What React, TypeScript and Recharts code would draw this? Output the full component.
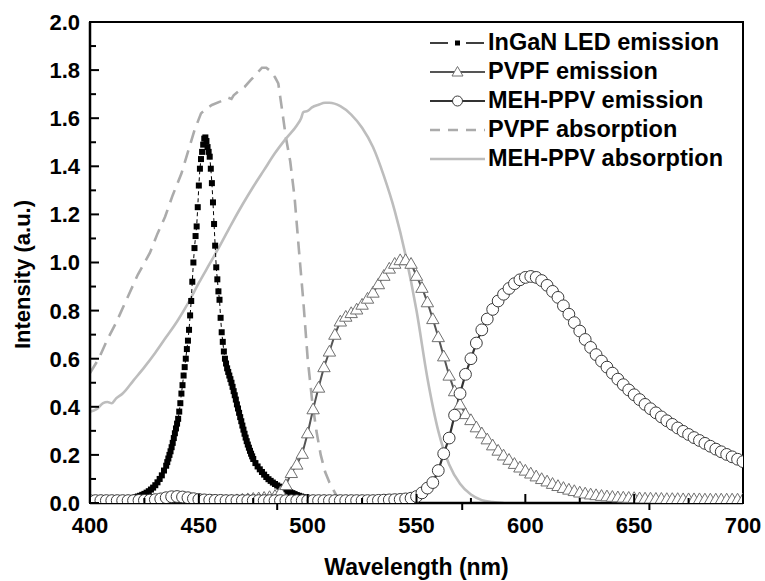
import { LineChart, Line, XAxis, YAxis, ReferenceArea, Legend } from 'recharts';

// [wavelength nm, intensity]
const ledEmission: [number, number][] = [
  [410, 0.01], [411, 0.011], [412, 0.011], [413, 0.012], [414, 0.012], [415, 0.013],
  [416, 0.014], [417, 0.015], [418, 0.017], [419, 0.019], [420, 0.021], [421, 0.024],
  [422, 0.027], [423, 0.03], [424, 0.034], [425, 0.038], [426, 0.043], [427, 0.049],
  [428, 0.056], [429, 0.064], [430, 0.074], [431, 0.086], [432, 0.1], [433, 0.115],
  [434, 0.135], [435, 0.155], [435.5, 0.17], [436, 0.185], [436.5, 0.2], [437, 0.215],
  [437.5, 0.232], [438, 0.25], [438.5, 0.27], [439, 0.29], [439.5, 0.31], [440, 0.33],
  [440.5, 0.35], [441, 0.38], [441.5, 0.415], [442, 0.455], [442.5, 0.49], [443, 0.53],
  [443.5, 0.565], [444, 0.6], [444.5, 0.64], [445, 0.675], [445.5, 0.72], [446, 0.78],
  [446.5, 0.84], [447, 0.92], [447.5, 1.0], [448, 1.06], [448.5, 1.11], [449, 1.15],
  [449.5, 1.23], [450, 1.32], [450.5, 1.39], [451, 1.43], [451.5, 1.46], [452, 1.49],
  [452.5, 1.515], [453, 1.52], [453.5, 1.505], [454, 1.48], [454.5, 1.46], [455, 1.44],
  [455.5, 1.39], [456, 1.33], [456.5, 1.25], [457, 1.16], [457.5, 1.07], [458, 0.98],
  [458.5, 0.93], [459, 0.88], [459.5, 0.845], [460, 0.77], [460.5, 0.71], [461, 0.67],
  [461.5, 0.63], [462, 0.6], [462.5, 0.58], [463, 0.56], [463.5, 0.545], [464, 0.53],
  [464.5, 0.515], [465, 0.5], [465.5, 0.483], [466, 0.465], [466.5, 0.448], [467, 0.43],
  [467.5, 0.41], [468, 0.393], [468.5, 0.375], [469, 0.357], [469.5, 0.34], [470, 0.322],
  [470.5, 0.305], [471, 0.288], [471.5, 0.272], [472, 0.257], [472.5, 0.243], [473, 0.23],
  [473.5, 0.217], [474, 0.205], [474.5, 0.194], [475, 0.183], [476, 0.166], [477, 0.152],
  [478, 0.14], [479, 0.129], [480, 0.118], [481, 0.108], [482, 0.099], [483, 0.092],
  [484, 0.085], [485, 0.079], [486, 0.073], [487, 0.068], [488, 0.063], [489, 0.059],
  [490, 0.055], [491, 0.05], [492, 0.045], [493, 0.041], [494, 0.037], [495, 0.033],
  [496, 0.03], [497, 0.027], [498, 0.024], [499, 0.021], [500, 0.018], [501, 0.015],
  [502, 0.012],
];

const pvpfEmission: [number, number][] = [
  [462.5, 0.008], [465, 0.01], [467.5, 0.012], [470, 0.014], [472.5, 0.016], [475, 0.018],
  [477.5, 0.02], [480, 0.022], [482.5, 0.025], [485, 0.03], [487.5, 0.045], [490, 0.075],
  [492.5, 0.125], [495, 0.16], [497.5, 0.205], [500, 0.29], [502.5, 0.39], [505, 0.48],
  [507.5, 0.565], [510, 0.63], [512.5, 0.7], [515, 0.755], [517.5, 0.775], [520, 0.79],
  [522.5, 0.805], [525, 0.825], [527.5, 0.85], [530, 0.875], [532.5, 0.91], [535, 0.945],
  [537.5, 0.975], [540, 0.995], [542.5, 1.01], [545, 1.01], [547.5, 0.995], [550, 0.945],
  [552.5, 0.895], [555, 0.835], [557.5, 0.765], [560, 0.69], [562.5, 0.61], [565, 0.53],
  [567.5, 0.465], [570, 0.41], [572.5, 0.37], [575, 0.345], [577.5, 0.315], [580, 0.29],
  [582.5, 0.265], [585, 0.24], [587.5, 0.218], [590, 0.198], [592.5, 0.18], [595, 0.163],
  [597.5, 0.148], [600, 0.135], [602.5, 0.123], [605, 0.111], [607.5, 0.1], [610, 0.09],
  [612.5, 0.08], [615, 0.071], [617.5, 0.063], [620, 0.056], [622.5, 0.05], [625, 0.044],
  [627.5, 0.04], [630, 0.036], [632.5, 0.033], [635, 0.03], [637.5, 0.028], [640, 0.026],
  [642.5, 0.024], [645, 0.023], [647.5, 0.022], [650, 0.021], [652.5, 0.02], [655, 0.019],
  [657.5, 0.019], [660, 0.018], [662.5, 0.018], [665, 0.017], [667.5, 0.017], [670, 0.017],
  [672.5, 0.016], [675, 0.016], [677.5, 0.016], [680, 0.016], [682.5, 0.015], [685, 0.015],
  [687.5, 0.015], [690, 0.015], [692.5, 0.015], [695, 0.015], [697.5, 0.015], [700, 0.015],
];

const mehEmission: [number, number][] = [
  [400, 0.01], [402.5, 0.01], [405, 0.01], [407.5, 0.01], [410, 0.01], [412.5, 0.01],
  [415, 0.01], [417.5, 0.01], [420, 0.01], [422.5, 0.011], [425, 0.011], [427.5, 0.012],
  [430, 0.014], [432.5, 0.017], [435, 0.022], [437.5, 0.026], [440, 0.027], [442.5, 0.025],
  [445, 0.022], [447.5, 0.018], [450, 0.015], [452.5, 0.013], [455, 0.012], [457.5, 0.011],
  [460, 0.011], [462.5, 0.01], [465, 0.01], [467.5, 0.01], [470, 0.01], [472.5, 0.01],
  [475, 0.01], [477.5, 0.01], [480, 0.01], [482.5, 0.01], [485, 0.01], [487.5, 0.01],
  [490, 0.01], [492.5, 0.01], [495, 0.01], [497.5, 0.01], [500, 0.01], [502.5, 0.01],
  [505, 0.01], [507.5, 0.01], [510, 0.01], [512.5, 0.01], [515, 0.01], [517.5, 0.01],
  [520, 0.01], [522.5, 0.01], [525, 0.01], [527.5, 0.01], [530, 0.01], [532.5, 0.011],
  [535, 0.012], [537.5, 0.013], [540, 0.014], [542.5, 0.015], [545, 0.017], [547.5, 0.02],
  [550, 0.027], [552.5, 0.042], [555, 0.062], [557.5, 0.085], [560, 0.135], [562.5, 0.205],
  [565, 0.27], [567.5, 0.365], [570, 0.455], [572.5, 0.535], [575, 0.6], [577.5, 0.665],
  [580, 0.72], [582.5, 0.765], [585, 0.805], [587.5, 0.84], [590, 0.868], [592.5, 0.892],
  [595, 0.912], [597.5, 0.928], [600, 0.938], [602.5, 0.942], [605, 0.938], [607.5, 0.925],
  [610, 0.905], [612.5, 0.88], [615, 0.855], [617.5, 0.82], [620, 0.785], [622.5, 0.75],
  [625, 0.715], [627.5, 0.68], [630, 0.647], [632.5, 0.617], [635, 0.59], [637.5, 0.565],
  [640, 0.54], [642.5, 0.515], [645, 0.492], [647.5, 0.47], [650, 0.45], [652.5, 0.43],
  [655, 0.41], [657.5, 0.392], [660, 0.375], [662.5, 0.358], [665, 0.342], [667.5, 0.327],
  [670, 0.312], [672.5, 0.298], [675, 0.285], [677.5, 0.272], [680, 0.26], [682.5, 0.248],
  [685, 0.236], [687.5, 0.224], [690, 0.213], [692.5, 0.202], [695, 0.192], [697.5, 0.182],
  [700, 0.172],
];

const pvpfAbsorption: [number, number][] = [
  [400, 0.54], [404, 0.6], [408, 0.68], [412, 0.75], [417.5, 0.86], [422, 0.95],
  [427.5, 1.04], [431, 1.12], [434.5, 1.19], [438, 1.28], [442, 1.37], [445, 1.46],
  [448, 1.55], [451, 1.62], [453.5, 1.64], [456, 1.655], [460, 1.67], [463.5, 1.685],
  [465, 1.68], [466, 1.695], [468, 1.71], [471, 1.73], [474, 1.76], [477, 1.79],
  [479, 1.81], [481, 1.81], [483, 1.795], [485, 1.77], [486.5, 1.745], [488, 1.65],
  [490, 1.52], [492, 1.42], [494, 1.27], [496, 1.05], [498, 0.84], [500, 0.6],
  [502, 0.43], [504, 0.3], [506, 0.2], [508, 0.13], [510, 0.085], [513, 0.035],
  [516, 0.01], [520, 0],
];

const mehAbsorption: [number, number][] = [
  [400, 0.38], [403, 0.39], [406, 0.415], [408, 0.42], [410, 0.415], [412, 0.435],
  [415, 0.455], [420, 0.51], [425, 0.565], [430, 0.625], [435, 0.69], [440, 0.755],
  [445, 0.83], [450, 0.915], [455, 0.995], [460, 1.075], [465, 1.16], [470, 1.24],
  [475, 1.315], [480, 1.385], [485, 1.455], [490, 1.515], [495, 1.57], [497, 1.6],
  [498, 1.625], [500, 1.63], [502, 1.645], [505, 1.656], [508, 1.664], [510, 1.664],
  [515, 1.65], [520, 1.615], [525, 1.56], [530, 1.48], [535, 1.36], [540, 1.215],
  [545, 1.03], [550, 0.8], [555, 0.52], [560, 0.3], [565, 0.16], [570, 0.08],
  [575, 0.035], [580, 0.012], [585, 0.004], [590, 0],
];

const legendNames = [
  'InGaN LED emission',
  'PVPF emission',
  'MEH-PPV emission',
  'PVPF absorption',
  'MEH-PPV absorption',
];

const xTicks = [400, 425, 450, 475, 486, 500, 525, 550, 571, 575, 600, 625, 650, 657, 675, 700];
const yTicks = [0, 0.1, 0.2, 0.3, 0.4, 0.5, 0.6, 0.7, 0.8, 0.9, 1.0, 1.1, 1.2, 1.3, 1.4, 1.5, 1.6, 1.7, 1.8, 1.9, 2.0];

const FONT = '"Liberation Sans", Arial, Helvetica, sans-serif';

const toPoints = (pairs: [number, number][]) => pairs.map(([x, y]) => ({ x, y }));

const XTick = (props: any) => {
  const { x, y, payload } = props;
  const v = payload.value;
  const major = v % 50 === 0;
  const minor = !major && v % 25 === 0;
  const len = major ? 9 : minor ? 5 : -7;
  return (
    <g>
      <line x1={x} x2={x} y1={y} y2={y - len} stroke="#000" strokeWidth={2} />
      {major && (
        <text x={x} y={y + 30} textAnchor="middle" fontFamily={FONT} fontWeight="bold" fontSize={22} fill="#000">
          {v}
        </text>
      )}
    </g>
  );
};

const YTick = (props: any) => {
  const { x, y, payload } = props;
  const v = payload.value;
  const major = Math.round(v * 10) % 2 === 0;
  return (
    <g>
      <line x1={x} x2={x + (major ? 9 : 6)} y1={y} y2={y} stroke="#000" strokeWidth={2} />
      {major && (
        <text x={x - 10} y={y} dy="0.36em" textAnchor="end" fontFamily={FONT} fontWeight="bold" fontSize={22} fill="#000">
          {v.toFixed(1)}
        </text>
      )}
    </g>
  );
};

const YTitle = (props: any) => {
  const vb = props.viewBox;
  const cx = vb.x + 22;
  const cy = vb.y + vb.height / 2 + 12;
  return (
    <text x={cx} y={cy} transform={`rotate(-90 ${cx} ${cy})`} textAnchor="middle" dy="0.36em" fontFamily={FONT} fontWeight="bold" fontSize={22} fill="#000">
      Intensity (a.u.)
    </text>
  );
};

const XTitle = (props: any) => {
  const vb = props.viewBox;
  const cx = vb.x + vb.width / 2;
  return (
    <text x={cx} y={vb.y + 72} textAnchor="middle" fontFamily={FONT} fontWeight="bold" fontSize={23} fill="#000">
      Wavelength (nm)
    </text>
  );
};

const squareDot = (props: any) => (
  <rect key={`sq-${props.index}`} x={props.cx - 3} y={props.cy - 3} width={6} height={6} fill="#000" />
);

const triangleDot = (props: any) => {
  const { cx, cy } = props;
  return (
    <path
      key={`tr-${props.index}`}
      d={`M${cx},${cy - 6.2} L${cx + 6.2},${cy + 4.6} L${cx - 6.2},${cy + 4.6} Z`}
      fill="#fff"
      stroke="#707070"
      strokeWidth={1}
    />
  );
};

const circleDot = (props: any) => (
  <circle key={`ci-${props.index}`} cx={props.cx} cy={props.cy} r={5.9} fill="#fff" stroke="#3a3a3a" strokeWidth={1} />
);

const swatch = (i: number) => {
  if (i === 0)
    return (
      <g>
        <line x1={1} x2={56} y1={10} y2={10} stroke="#000" strokeWidth={1.3} strokeDasharray="18 18" />
        <rect x={26} y={7.5} width={5} height={5} fill="#000" />
      </g>
    );
  if (i === 1)
    return (
      <g>
        <line x1={1} x2={56} y1={10} y2={10} stroke="#555" strokeWidth={2} />
        <path d="M28.5,4.5 L34,14 L23,14 Z" fill="#fff" stroke="#707070" strokeWidth={1} />
      </g>
    );
  if (i === 2)
    return (
      <g>
        <line x1={1} x2={56} y1={10} y2={10} stroke="#333" strokeWidth={2.2} />
        <circle cx={28.5} cy={10} r={5} fill="#fff" stroke="#3a3a3a" strokeWidth={1} />
      </g>
    );
  if (i === 3)
    return <line x1={1} x2={56} y1={10} y2={10} stroke="#ababab" strokeWidth={2.5} strokeDasharray="10 8" />;
  return <line x1={1} x2={56} y1={10} y2={10} stroke="#bdbdbd" strokeWidth={2.5} />;
};

const LegendContent = () => (
  <div style={{ fontFamily: FONT, fontWeight: 'bold', fontSize: 23.5, color: '#000' }}>
    {legendNames.map((name, i) => (
      <div key={name} style={{ display: 'flex', alignItems: 'center', height: 29, whiteSpace: 'nowrap' }}>
        <svg width={58} height={20} style={{ display: 'block' }}>
          {swatch(i)}
        </svg>
        <span style={{ marginLeft: 1 }}>{name}</span>
      </div>
    ))}
  </div>
);

export default function App() {
  return (
    <div style={{ position: 'absolute', left: 0, top: 0, background: '#fff' }}>
      <LineChart width={765} height={581} margin={{ top: 22, right: 22, bottom: 0, left: 0 }}>
        <XAxis
          type="number"
          dataKey="x"
          domain={[400, 700]}
          ticks={xTicks}
          interval={0}
          tick={<XTick />}
          tickLine={false}
          tickSize={0}
          tickMargin={0}
          height={78}
          axisLine={{ stroke: '#000', strokeWidth: 2.5 }}
          allowDataOverflow
          label={<XTitle />}
        />
        <YAxis
          type="number"
          domain={[0, 2]}
          ticks={yTicks}
          interval={0}
          tick={<YTick />}
          tickLine={false}
          tickSize={0}
          tickMargin={0}
          width={90}
          axisLine={{ stroke: '#000', strokeWidth: 2.5 }}
          allowDataOverflow
          label={<YTitle />}
        />
        <ReferenceArea x1={400} x2={700} y1={0} y2={2} fill="none" stroke="#000" strokeWidth={2} />
        <Line
          data={toPoints(pvpfAbsorption)}
          dataKey="y"
          type="linear"
          stroke="#ababab"
          strokeWidth={2.6}
          strokeDasharray="13 8"
          dot={false}
          activeDot={false}
          isAnimationActive={false}
        />
        <Line
          data={toPoints(mehAbsorption)}
          dataKey="y"
          type="monotone"
          stroke="#bdbdbd"
          strokeWidth={2.6}
          dot={false}
          activeDot={false}
          isAnimationActive={false}
        />
        <Line
          data={toPoints(ledEmission)}
          dataKey="y"
          type="linear"
          stroke="#000"
          strokeWidth={1}
          strokeDasharray="4 3"
          dot={squareDot}
          activeDot={false}
          isAnimationActive={false}
        />
        <Line
          data={toPoints(pvpfEmission)}
          dataKey="y"
          type="linear"
          stroke="#555"
          strokeWidth={2}
          dot={triangleDot}
          activeDot={false}
          isAnimationActive={false}
        />
        <Line
          data={toPoints(mehEmission)}
          dataKey="y"
          type="linear"
          stroke="#333"
          strokeWidth={2.2}
          dot={circleDot}
          activeDot={false}
          isAnimationActive={false}
        />
        <Legend
          layout="vertical"
          align="center"
          verticalAlign="middle"
          content={<LegendContent />}
          wrapperStyle={{ top: 28, left: 429, width: 'auto', height: 'auto' }}
        />
      </LineChart>
    </div>
  );
}
